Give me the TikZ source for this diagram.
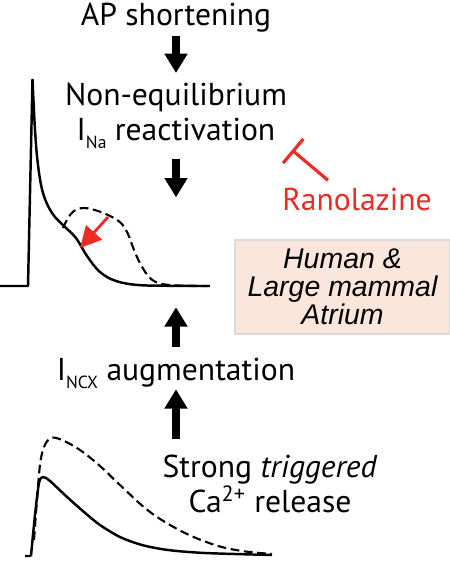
\documentclass[tikz,border=0pt]{standalone}
\usepackage{xcolor}
\usepackage{fontspec}
\setmainfont{PT Sans}
\newfontfamily\boxfont{Liberation Sans}
\usepackage{tikz}
\usetikzlibrary{arrows.meta, positioning, calc}
\definecolor{ranored}{RGB}{238, 42, 36}
\definecolor{atriumfill}{RGB}{251, 230, 220}
\definecolor{atriumline}{RGB}{218, 218, 218}

\begin{document}
\begin{tikzpicture}[
    x=0.02cm, y=-0.02cm,
    label/.style={align=center, inner sep=0pt, font=\fontsize{18}{19.5}\selectfont},
    species/.style={rectangle, draw=atriumline, line width=0.8pt, fill=atriumfill, minimum width=4.3cm, minimum height=1.88cm, align=center, inner sep=0pt, font=\boxfont\itshape\fontsize{16.2}{16}\selectfont},
    blockarrow/.style={-{Triangle[width=12.5pt, length=11pt]}, line width=4.6pt},
    inhibit/.style={-{Bar[width=18pt]}, ranored, line width=1.8pt},
    trace/.style={line width=1.4pt, line join=round},
    tracedash/.style={trace, line width=1.2pt, dash pattern=on 5pt off 2.6pt}
]
    \useasboundingbox (0,0) rectangle (450,562);

    % text chain
    \node[label, anchor=base] (ap) at (176,25) {AP shortening};
    \node[label, anchor=north] (noneq) at (176,83) {Non-equilibrium\\I\raisebox{-0.55ex}{\fontsize{10}{10}\selectfont Na} reactivation};
    \node[label, anchor=base] (ncx) at (176,380) {I\raisebox{-0.55ex}{\fontsize{10}{10}\selectfont NCX} augmentation};
    \node[label, anchor=north] (release) at (270,455) {Strong \textit{triggered}\\Ca\textsuperscript{2+} release};
    \node[label, anchor=base, text=ranored] (rano) at (357,210) {Ranolazine};
    \node[species] (atrium) at (342.5,287) {Human \&\\Large mammal\\Atrium};
    \coordinate (block) at (292,150);

    % connectors
    \draw[blockarrow] (ap.south) ++(0,4) -- ([yshift=0.2cm]noneq.north);
    \draw[blockarrow] (noneq.south) ++(0,10) -- ++(0,38);
    \draw[blockarrow] (ncx.north) ++(0,-10) -- ++(0,-40);
    \draw[blockarrow] (release.north -| ncx.south) ++(0,-16) -- (ncx.south);
    \draw[inhibit] ($(rano.north)+(-29,-7)$) -- (block);

    % action potential
    \draw[trace] (0,286) -- (28,286) -- (32.5,79)
        plot[smooth, tension=0.6] coordinates {(32.5,79) (35,130) (38,165) (43,193) (52,213) (64,226) (76,238) (87,256) (100,272) (116,281) (138,285) (170,285.8) (208,286)};
    \draw[tracedash] plot[smooth, tension=0.6] coordinates {(63,228) (68,218) (74,211) (84,208) (98,211) (112,217) (121,223) (128,234) (134,250) (141,265) (150,278) (162,284) (185,285.8) (212,286)};
    \draw[ranored, line width=1.6pt, -{Triangle[width=12pt, length=12pt]}] (108,217) -- (80,248);

    % calcium transient
    \draw[trace] (25,556) -- (31,556)
        plot[smooth, tension=0.5] coordinates {(31,556) (35,515) (39,483) (43,477) (50,481) (66,496) (84,512) (100,525) (120,537) (142,545) (168,550) (205,553) (272,555)};
    \draw[tracedash] plot[smooth, tension=0.6] coordinates {(34,540) (37,500) (40,465) (44,447) (51,438) (62,440) (80,450) (100,466) (120,485) (150,512) (183,532) (215,545) (242,551) (272,554)};
\end{tikzpicture}
\end{document}
